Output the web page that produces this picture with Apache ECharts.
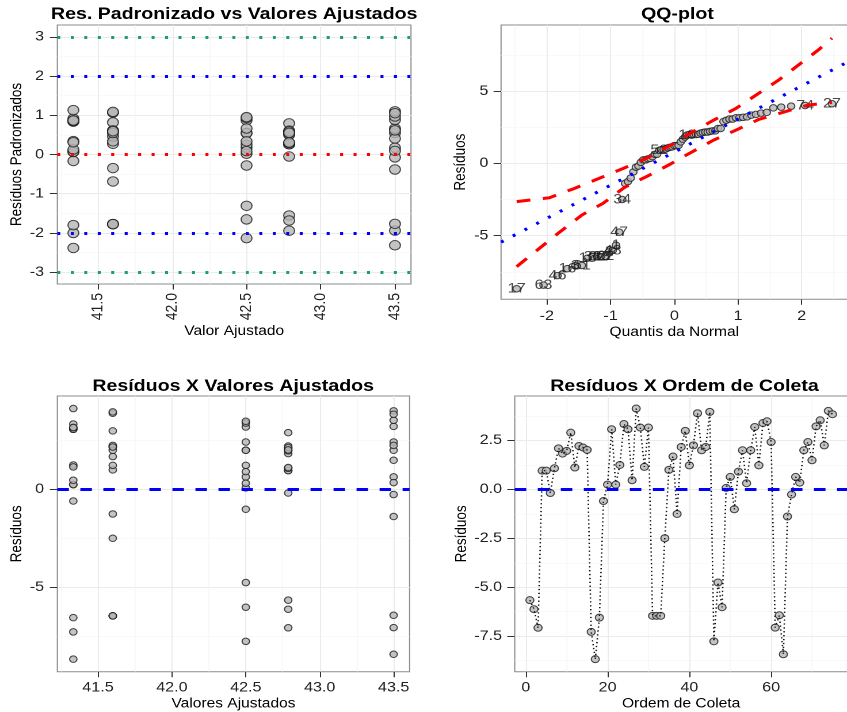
<!DOCTYPE html>
<html><head><meta charset="utf-8">
<script src="https://cdn.jsdelivr.net/npm/echarts@6/dist/echarts.min.js"></script>
<style>
html,body{margin:0;padding:0;background:#fff;overflow:hidden;}
#chart{position:absolute;left:0;top:0;transform-origin:0 0;}
</style>
</head><body><div id="chart"></div>
<script>
// ---------------- data ----------------
// residuals in collection order (obs 1..75)
const residuals = [
  -5.66,-6.12,-7.07,0.95,0.95,-0.19,1.07,2.09,1.82,1.96,2.89,1.11,2.21,2.13,2.01,
  -7.28,-8.67,-6.55,-0.60,0.24,3.06,0.24,1.24,3.33,3.06,0.46,4.12,3.15,1.14,3.15,
  -6.46,-6.46,-6.46,-2.50,0.99,1.67,-1.26,2.16,2.98,1.22,2.24,3.88,1.99,2.16,3.95,
  -7.76,-4.76,-6.02,0.07,0.63,-1.02,0.90,1.99,0.31,1.99,3.18,1.22,3.38,3.47,2.41,
  -7.06,-6.43,-8.42,-1.39,-0.27,0.63,0.34,1.99,2.41,1.48,3.21,3.52,2.24,4.00,3.83
];
// fitted value of each block of 15 consecutive observations
const fittedByBlock = [42.787, 41.333, 41.6, 42.5, 43.5];
const obsPerBlock = 15;
const residualScale = 3.64;
// reference levels in panel 1
const stdRefLevels = [3, 2, 0, -2, -3];
const stdRefColors = ['#1b9e77', '#0000ff', '#ff0000', '#0000ff', '#1b9e77'];
const qqLabelled = [17,63,46,16,3,61,18,31,32,33,62,2,48,1,47,34,52,10,74,27];
const qqLineX = [-2.72, 2.72];
const qqLineY = [-5.45, 7.0];
const envUpperX = [-2.475,-1.96,-1.565,-1.18,-0.80,-0.41,0.0,0.2,0.62,0.97,1.64,2.26,2.475];
const envUpperY = [-2.65,-2.38,-1.73,-1.04,-0.35,0.41,1.40,1.95,2.99,3.80,5.76,7.83,8.65];
const envLowerX = [-2.475,-1.805,-1.45,-1.12,-0.78,-0.42,-0.06,0.2,0.62,0.97,1.33,1.74,2.10,2.475];
const envLowerY = [-7.14,-4.77,-3.57,-2.77,-1.66,-0.88,-0.05,0.60,1.61,2.30,3.04,3.57,4.03,4.20];
// tick labels
const fitTicks = [41.5, 42, 42.5, 43, 43.5];
const fitMinor = [41.25, 41.75, 42.25, 42.75, 43.25];
const stdTicks = [-3, -2, -1, 0, 1, 2, 3];
const stdMinor = [-2.5, -1.5, -0.5, 0.5, 1.5, 2.5];
const qqXTicks = [-2, -1, 0, 1, 2];
const qqXMinor = [-2.5, -1.5, -0.5, 0.5, 1.5, 2.5];
const qqYTicks = [-5, 0, 5];
const qqYMinor = [-7.5, -2.5, 2.5, 7.5];
const resTicks = [-5, 0];
const resMinor = [-7.5, -2.5, 2.5];
const ordXTicks = [0, 20, 40, 60];
const ordXMinor = [10, 30, 50, 70];
const ordYTicks = [-7.5, -5, -2.5, 0, 2.5];
const ordYMinor = [-8.75, -6.25, -3.75, -1.25, 1.25, 3.75];

// ---------------- derived series ----------------
const fitted = residuals.map((r, i) => fittedByBlock[Math.floor(i / obsPerBlock)]);
const stdResid = residuals.map(r => r / residualScale);

// normal quantile (Acklam) for the theoretical QQ positions
function qnorm(p) {
  const a=[-3.969683028665376e+01,2.209460984245205e+02,-2.759285104469687e+02,1.383577518672690e+02,-3.066479806614716e+01,2.506628277459239e+00];
  const b=[-5.447609879822406e+01,1.615858368580409e+02,-1.556989798598866e+02,6.680131188771972e+01,-1.328068155288572e+01];
  const c=[-7.784894002430293e-03,-3.223964580411365e-01,-2.400758277161838e+00,-2.549732539343734e+00,4.374664141464968e+00,2.938163982698783e+00];
  const d=[7.784695709041462e-03,3.224671290700398e-01,2.445134137142996e+00,3.754408661907416e+00];
  const pl = 0.02425, ph = 1 - pl;
  let q, r;
  if (p < pl) { q = Math.sqrt(-2*Math.log(p)); return (((((c[0]*q+c[1])*q+c[2])*q+c[3])*q+c[4])*q+c[5])/((((d[0]*q+d[1])*q+d[2])*q+d[3])*q+1); }
  if (p <= ph) { q = p - 0.5; r = q*q; return (((((a[0]*r+a[1])*r+a[2])*r+a[3])*r+a[4])*r+a[5])*q/(((((b[0]*r+b[1])*r+b[2])*r+b[3])*r+b[4])*r+1); }
  q = Math.sqrt(-2*Math.log(1-p)); return -(((((c[0]*q+c[1])*q+c[2])*q+c[3])*q+c[4])*q+c[5])/((((d[0]*q+d[1])*q+d[2])*q+d[3])*q+1);
}
const order = residuals.map((r, i) => ({id: i + 1, r: r})).sort((u, v) => u.r - v.r);
const n = residuals.length;

// ---------------- layout ----------------
const S = 1.15;                // the reference is stretched horizontally
const W = 847 / S, H = 712;
const X = v => v / S;
const FONT = '"Liberation Sans", Arial, Helvetica, sans-serif';
const tickLbl = {fontSize: 14, color: '#222', fontFamily: FONT};
const nameSty = {fontSize: 13.5, color: '#000', fontFamily: FONT};
const majorGrid = {show: true, lineStyle: {color: '#ebebeb', width: 1}};
const minorGrid = {show: true, lineStyle: {color: '#f4f4f4', width: 0.6}};

function mainAxis(gi, min, max, ticks, name, gap, margin, tickLen, fmt, extra) {
  return Object.assign({
    type: 'value', gridIndex: gi, min: min, max: max,
    name: name, nameLocation: 'middle', nameGap: gap, nameTextStyle: nameSty,
    axisLine: {show: false, onZero: false},
    axisTick: {show: true, length: tickLen, customValues: ticks, lineStyle: {color: '#333', width: 1}},
    axisLabel: Object.assign({show: true, customValues: ticks, margin: margin, formatter: fmt, hideOverlap: false}, tickLbl),
    splitLine: majorGrid
  }, extra || {});
}
function minorAxis(gi, min, max, ticks) {
  return {
    type: 'value', gridIndex: gi, min: min, max: max,
    axisLine: {show: false, onZero: false},
    axisTick: {show: false, customValues: ticks},
    axisLabel: {show: false, customValues: ticks},
    splitLine: minorGrid, z: 0
  };
}
const f1 = v => v.toFixed(1);
const f0 = v => String(v);

const fitMin = 41.225, fitMax = 43.608;
const resMin = -9.31, resMax = 4.76;

const option = {
  animation: false,
  backgroundColor: '#fff',
  title: [
    {text: 'Res. Padronizado vs Valores Ajustados', left: X(234), top: 6, textAlign: 'center', padding: 0,
     textStyle: {fontSize: 17, fontWeight: 'bold', color: '#000', fontFamily: FONT}},
    {text: 'QQ-plot', left: X(677), top: 6, textAlign: 'center', padding: 0,
     textStyle: {fontSize: 17, fontWeight: 'bold', color: '#000', fontFamily: FONT}},
    {text: 'Resíduos X Valores Ajustados', left: X(233), top: 378, textAlign: 'center', padding: 0,
     textStyle: {fontSize: 17, fontWeight: 'bold', color: '#000', fontFamily: FONT}},
    {text: 'Resíduos X Ordem de Coleta', left: X(684), top: 378, textAlign: 'center', padding: 0,
     textStyle: {fontSize: 17, fontWeight: 'bold', color: '#000', fontFamily: FONT}}
  ],
  grid: [
    {left: X(57.3), top: 25, width: X(410.7 - 57.3), height: 259, show: true, borderColor: '#8c8c8c', borderWidth: 1, backgroundColor: '#fff'},
    {left: X(500.7), top: 25, width: X(853.5 - 500.7), height: 274.3, show: true, borderColor: '#8c8c8c', borderWidth: 1, backgroundColor: '#fff'},
    {left: X(57.3), top: 396, width: X(409.3 - 57.3), height: 275.7, show: true, borderColor: '#8c8c8c', borderWidth: 1, backgroundColor: '#fff'},
    {left: X(514.4), top: 396, width: X(853.6 - 514.4), height: 275.7, show: true, borderColor: '#8c8c8c', borderWidth: 1, backgroundColor: '#fff'}
  ],
  xAxis: [
    mainAxis(0, fitMin, fitMax, fitTicks, 'Valor Ajustado', 40, 9, 5.5, f1, {axisLabel: Object.assign({customValues: fitTicks, margin: 9, formatter: f1, rotate: 90}, tickLbl)}),
    mainAxis(1, -2.72, 2.72, qqXTicks, 'Quantis da Normal', 26, 10, 5.5, f0),
    mainAxis(2, fitMin, fitMax, fitTicks, 'Valores Ajustados', 25, 9, 5.5, f1),
    mainAxis(3, -2.7, 78.7, ordXTicks, 'Ordem de Coleta', 25, 9, 5.5, f0),
    minorAxis(0, fitMin, fitMax, fitMinor),
    minorAxis(1, -2.72, 2.72, qqXMinor),
    minorAxis(2, fitMin, fitMax, fitMinor),
    minorAxis(3, -2.7, 78.7, ordXMinor)
  ],
  yAxis: [
    mainAxis(0, -3.3, 3.3, stdTicks, 'Resíduos Padronizados', 28, 11.5, 6.5, f0),
    mainAxis(1, -9.40, 9.56, qqYTicks, 'Resíduos', 28, 11, 6.5, f0),
    mainAxis(2, resMin, resMax, resTicks, 'Resíduos', 28, 11.5, 6.5, f0),
    mainAxis(3, resMin, resMax, ordYTicks, 'Resíduos', 39, 11, 6.5, f1),
    minorAxis(0, -3.3, 3.3, stdMinor),
    minorAxis(1, -9.40, 9.56, qqYMinor),
    minorAxis(2, resMin, resMax, resMinor),
    minorAxis(3, resMin, resMax, ordYMinor)
  ],
  series: [
    // panel 1: standardized residuals vs fitted
    {type: 'scatter', xAxisIndex: 0, yAxisIndex: 0, symbolSize: 9.5, z: 2,
     itemStyle: {color: '#b5b5b5', borderColor: '#1a1a1a', borderWidth: 1},
     data: stdResid.map((v, i) => [fitted[i], v])},
    {type: 'line', xAxisIndex: 0, yAxisIndex: 0, data: [], z: 5,
     markLine: {silent: true, symbol: ['none', 'none'], label: {show: false},
       data: stdRefLevels.map((v, i) => ({yAxis: v, lineStyle: {color: stdRefColors[i], width: 3, type: [2.6, 9.1], cap: 'butt'}}))}},
    // panel 2: QQ plot
    {type: 'scatter', xAxisIndex: 1, yAxisIndex: 1, symbolSize: 6.5, z: 2,
     itemStyle: {color: '#b5b5b5', borderColor: '#1a1a1a', borderWidth: 1},
     labelLayout: {hideOverlap: false},
     data: order.map((o, k) => {
       const item = {value: [qnorm((k + 1 - 0.5) / n), o.r]};
       if (qqLabelled.indexOf(o.id) >= 0) {
         item.label = {show: true, position: 'inside', formatter: String(o.id), fontSize: 14, color: '#1a1a1a', fontFamily: FONT};
       }
       return item;
     })},
    {type: 'line', xAxisIndex: 1, yAxisIndex: 1, showSymbol: false, symbol: 'none', z: 4,
     lineStyle: {color: '#0000ff', width: 3, type: [2.6, 9.3], cap: 'butt'},
     data: qqLineX.map((x, i) => [x, qqLineY[i]])},
    {type: 'line', xAxisIndex: 1, yAxisIndex: 1, showSymbol: false, symbol: 'none', z: 4,
     lineStyle: {color: '#ff0000', width: 3, type: [12, 11], cap: 'butt'},
     data: envUpperX.map((x, i) => [x, envUpperY[i]])},
    {type: 'line', xAxisIndex: 1, yAxisIndex: 1, showSymbol: false, symbol: 'none', z: 4,
     lineStyle: {color: '#ff0000', width: 3, type: [12, 11], cap: 'butt'},
     data: envLowerX.map((x, i) => [x, envLowerY[i]])},
    // panel 3: residuals vs fitted
    {type: 'scatter', xAxisIndex: 2, yAxisIndex: 2, symbolSize: 6.5, z: 2,
     itemStyle: {color: '#b5b5b5', borderColor: '#1a1a1a', borderWidth: 1},
     data: residuals.map((v, i) => [fitted[i], v])},
    {type: 'line', xAxisIndex: 2, yAxisIndex: 2, data: [], z: 5,
     markLine: {silent: true, symbol: ['none', 'none'], label: {show: false},
       data: [{yAxis: 0, lineStyle: {color: '#0000ff', width: 3, type: [10, 10], cap: 'butt'}}]}},
    // panel 4: residuals vs collection order
    {type: 'scatter', xAxisIndex: 3, yAxisIndex: 3, symbolSize: 7, z: 2,
     itemStyle: {color: '#b5b5b5', borderColor: '#1a1a1a', borderWidth: 1},
     data: residuals.map((v, i) => [i + 1, v])},
    {type: 'line', xAxisIndex: 3, yAxisIndex: 3, showSymbol: false, symbol: 'none', z: 3,
     lineStyle: {color: '#111', width: 1.3, type: [1.3, 2.6], cap: 'butt'},
     data: residuals.map((v, i) => [i + 1, v])},
    {type: 'line', xAxisIndex: 3, yAxisIndex: 3, data: [], z: 5,
     markLine: {silent: true, symbol: ['none', 'none'], label: {show: false},
       data: [{yAxis: 0, lineStyle: {color: '#0000ff', width: 3, type: [10, 10], cap: 'butt'}}]}}
  ]
};

const el = document.getElementById('chart');
el.style.width = W + 'px';
el.style.height = H + 'px';
el.style.transform = 'scaleX(' + S + ')';
const chart = echarts.init(el, null, {width: W, height: H, devicePixelRatio: 2});
chart.setOption(option);
</script>
</body></html>
